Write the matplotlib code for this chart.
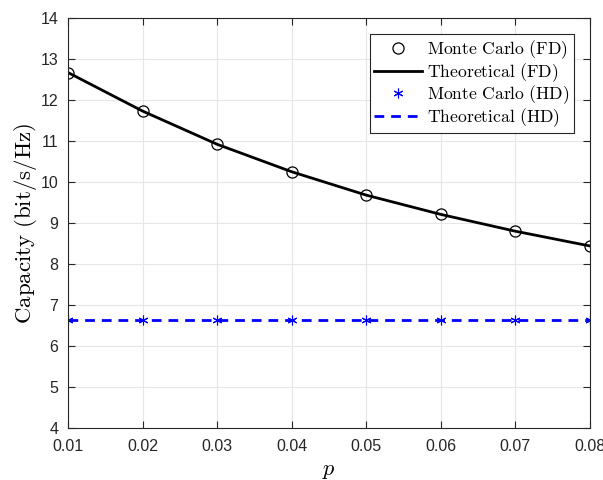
import matplotlib
matplotlib.use("Agg")
import matplotlib.pyplot as plt

p = [0.01, 0.02, 0.03, 0.04, 0.05, 0.06, 0.07, 0.08]
mc_fd = [12.67, 11.73, 10.92, 10.25, 9.68, 9.21, 8.80, 8.44]
th_fd = [12.67, 11.73, 10.92, 10.25, 9.68, 9.21, 8.80, 8.44]
mc_hd = [6.63, 6.63, 6.63, 6.63, 6.63, 6.63, 6.63, 6.63]
th_hd = [6.63, 6.63, 6.63, 6.63, 6.63, 6.63, 6.63, 6.63]
xticks = [0.01, 0.02, 0.03, 0.04, 0.05, 0.06, 0.07, 0.08]
xticklabels = ["0.01", "0.02", "0.03", "0.04", "0.05", "0.06", "0.07", "0.08"]
yticks = [4, 5, 6, 7, 8, 9, 10, 11, 12, 13, 14]

plt.rcParams['mathtext.fontset'] = 'cm'
plt.rcParams['font.family'] = ['Liberation Sans', 'DejaVu Sans']

fig = plt.figure(figsize=(6.03, 4.8), dpi=100)
ax = fig.add_axes([0.1128, 0.1083, 0.8655, 0.8542])

ax.plot(p, mc_fd, linestyle='none', marker='o', markersize=8, markerfacecolor='none',
        markeredgecolor='black', markeredgewidth=0.9, label=r'$\mathrm{Monte\ Carlo\ (FD)}$')
ax.plot(p, th_fd, color='black', linewidth=2, label=r'$\mathrm{Theoretical\ (FD)}$')
ax.plot(p, mc_hd, linestyle='none', marker=(6, 2, 0), markersize=7, color='blue',
        markeredgewidth=0.8, label=r'$\mathrm{Monte\ Carlo\ (HD)}$')
ax.plot(p, th_hd, color='blue', linewidth=2, linestyle=(0, (3.5, 2.5)),
        label=r'$\mathrm{Theoretical\ (HD)}$')

ax.set_xlim(0.01, 0.08)
ax.set_ylim(4, 14)
ax.set_xticks(xticks)
ax.set_xticklabels(xticklabels)
ax.set_yticks(yticks)
ax.tick_params(direction='in', top=True, right=True, labelsize=11.5, length=5,
               width=0.8, colors='#262626')
ax.tick_params(axis='x', pad=8)
ax.tick_params(axis='y', pad=7)
ax.grid(True, color='#e6e6e6', linewidth=0.8)
ax.set_axisbelow(True)
for s in ax.spines.values():
    s.set_color('#262626')
    s.set_linewidth(0.8)

ax.set_xlabel(r'$p$', fontsize=16, labelpad=4)
ax.set_ylabel(r'$\mathrm{Capacity\ (bit/s/Hz)}$', fontsize=16.5, labelpad=1)

leg = ax.legend(loc='upper right', fontsize=12.7, frameon=True, fancybox=False,
                edgecolor='#262626', framealpha=1, borderpad=0.25, labelspacing=0.0,
                handlelength=2.7, handletextpad=0.3, borderaxespad=0.9)
leg.get_frame().set_linewidth(0.8)

fig.savefig('out.png', dpi=100)
